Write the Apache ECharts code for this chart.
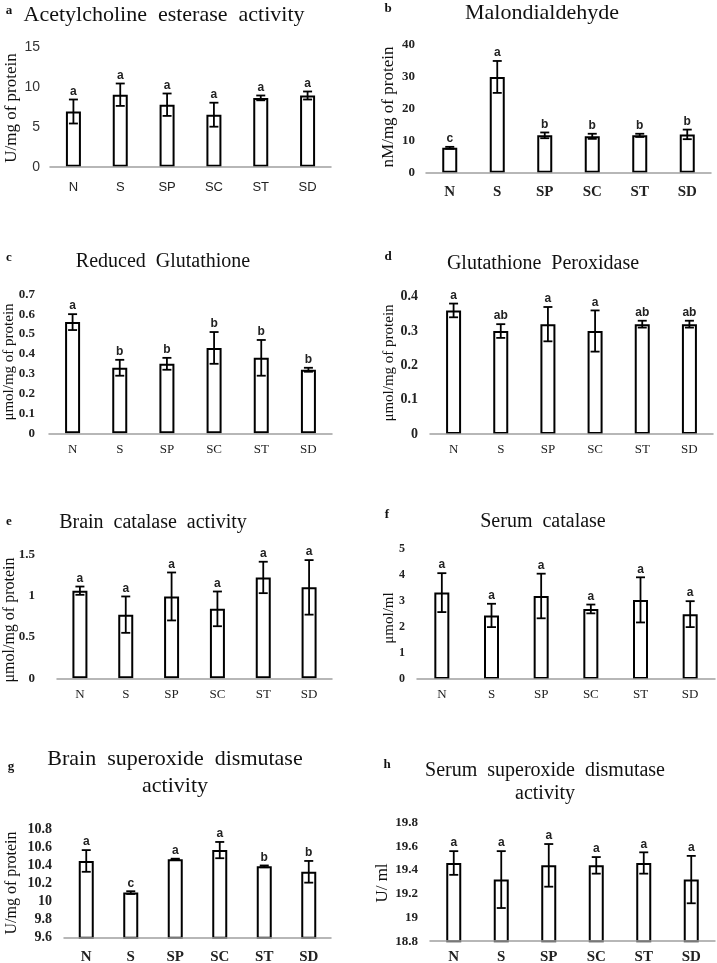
<!DOCTYPE html>
<html>
<head>
<meta charset="utf-8">
<script src="https://cdn.jsdelivr.net/npm/echarts@6/dist/echarts.min.js"></script>
<style>html,body{margin:0;padding:0;background:#fff}#c{width:717px;height:963px}</style>
</head>
<body>
<div id="c"></div>
<script>
const categories = ['N', 'S', 'SP', 'SC', 'ST', 'SD'];

const aMean = [6.9, 9.0, 7.75, 6.5, 8.6, 8.9];
const aErr  = [1.5, 1.4, 1.4, 1.5, 0.3, 0.5];
const aSig  = ['a', 'a', 'a', 'a', 'a', 'a'];

const bMean = [7.8, 30, 11.7, 11.4, 11.7, 12.0];
const bErr  = [0.3, 5, 0.9, 0.8, 0.5, 1.5];
const bSig  = ['c', 'a', 'b', 'b', 'b', 'b'];

const cMean = [0.56, 0.33, 0.35, 0.43, 0.38, 0.32];
const cErr  = [0.04, 0.04, 0.03, 0.08, 0.09, 0.01];
const cSig  = ['a', 'b', 'b', 'b', 'b', 'b'];

const dMean = [0.36, 0.30, 0.32, 0.30, 0.32, 0.32];
const dErr  = [0.02, 0.02, 0.05, 0.06, 0.01, 0.01];
const dSig  = ['a', 'ab', 'a', 'a', 'ab', 'ab'];

const eMean = [1.06, 0.77, 0.99, 0.84, 1.22, 1.10];
const eErr  = [0.05, 0.22, 0.29, 0.21, 0.19, 0.33];
const eSig  = ['a', 'a', 'a', 'a', 'a', 'a'];

const fMean = [3.33, 2.45, 3.2, 2.7, 3.05, 2.5];
const fErr  = [0.75, 0.45, 0.86, 0.17, 0.87, 0.5];
const fSig  = ['a', 'a', 'a', 'a', 'a', 'a'];

const gMean = [10.45, 10.10, 10.47, 10.57, 10.39, 10.33];
const gErr  = [0.12, 0.015, 0.005, 0.09, 0.01, 0.12];
const gSig  = ['a', 'c', 'a', 'a', 'b', 'b'];

const hMean = [19.46, 19.32, 19.44, 19.44, 19.46, 19.32];
const hErr  = [0.1, 0.24, 0.18, 0.07, 0.09, 0.2];
const hSig  = ['a', 'a', 'a', 'a', 'a', 'a'];

const SERIF = '"Liberation Serif", "Times New Roman", serif';
const SANS = '"Liberation Sans", Arial, sans-serif';

const panels = [
  {mean: aMean, err: aErr, sig: aSig, min: 0, max: 15, interval: 5,
   grid: {left: 50, top: 46.7, width: 281, height: 120},
   yMargin: 10, xMargin: 21, tickFont: {fontFamily: SANS, fontSize: 14, fontWeight: 'normal', color: '#333'},
   catFont: {fontFamily: SANS, fontSize: 13, fontWeight: 'normal', color: '#222'}},
  {mean: bMean, err: bErr, sig: bSig, min: 0, max: 40, interval: 10,
   grid: {left: 426, top: 45, width: 285, height: 127.7},
   yMargin: 11, xMargin: 19, tickFont: {fontFamily: SERIF, fontSize: 13, fontWeight: 'bold', color: '#222'},
   catFont: {fontFamily: SERIF, fontSize: 15, fontWeight: 'bold', color: '#222'}},
  {mean: cMean, err: cErr, sig: cSig, min: 0, max: 0.7, interval: 0.1,
   grid: {left: 49, top: 294.3, width: 283, height: 139},
   yMargin: 14, xMargin: 16, tickFont: {fontFamily: SERIF, fontSize: 13, fontWeight: 'bold', color: '#222'},
   catFont: {fontFamily: SERIF, fontSize: 13, fontWeight: 'normal', color: '#222'}},
  {mean: dMean, err: dErr, sig: dSig, min: 0, max: 0.4, interval: 0.1,
   grid: {left: 430, top: 296.7, width: 283, height: 137.3},
   yMargin: 12, xMargin: 16, tickFont: {fontFamily: SERIF, fontSize: 14, fontWeight: 'bold', color: '#222'},
   catFont: {fontFamily: SERIF, fontSize: 13, fontWeight: 'normal', color: '#222'}},
  {mean: eMean, err: eErr, sig: eSig, min: 0, max: 1.5, interval: 0.5,
   grid: {left: 57, top: 554.3, width: 275, height: 124},
   yMargin: 22, xMargin: 16, tickFont: {fontFamily: SERIF, fontSize: 13, fontWeight: 'bold', color: '#222'},
   catFont: {fontFamily: SERIF, fontSize: 13, fontWeight: 'normal', color: '#222'}},
  {mean: fMean, err: fErr, sig: fSig, min: 0, max: 5, interval: 1,
   grid: {left: 417, top: 549.3, width: 298, height: 129.7},
   yMargin: 12, xMargin: 16, tickFont: {fontFamily: SERIF, fontSize: 12, fontWeight: 'bold', color: '#222'},
   catFont: {fontFamily: SERIF, fontSize: 13, fontWeight: 'normal', color: '#222'}},
  {mean: gMean, err: gErr, sig: gSig, min: 9.6, max: 10.8, interval: 0.2,
   grid: {left: 64, top: 829.3, width: 267, height: 108.5},
   yMargin: 12, xMargin: 19, tickFont: {fontFamily: SERIF, fontSize: 14, fontWeight: 'bold', color: '#222'},
   catFont: {fontFamily: SERIF, fontSize: 15, fontWeight: 'bold', color: '#222'}},
  {mean: hMean, err: hErr, sig: hSig, min: 18.8, max: 19.8, interval: 0.2,
   grid: {left: 430, top: 822.7, width: 285, height: 118.5},
   yMargin: 12, xMargin: 16, tickFont: {fontFamily: SERIF, fontSize: 13, fontWeight: 'bold', color: '#222'},
   catFont: {fontFamily: SERIF, fontSize: 15, fontWeight: 'bold', color: '#222'}}
];

function errRender(sig) {
  return function (params, api) {
    const x = api.value(0), m = api.value(1), e = api.value(2);
    const top = api.coord([x, m + e]);
    const bot = api.coord([x, m - e]);
    const hw = 4.5;
    const st = {stroke: '#000', lineWidth: 1.8};
    return {
      type: 'group',
      children: [
        {type: 'line', shape: {x1: top[0], y1: top[1], x2: bot[0], y2: bot[1]}, style: st},
        {type: 'line', shape: {x1: top[0] - hw, y1: top[1], x2: top[0] + hw, y2: top[1]}, style: st},
        {type: 'line', shape: {x1: bot[0] - hw, y1: bot[1], x2: bot[0] + hw, y2: bot[1]}, style: st},
        {type: 'text', x: top[0], y: top[1] - 2,
         style: {text: sig[params.dataIndex], textAlign: 'center', textVerticalAlign: 'bottom',
                 font: 'bold 12px ' + SANS, fill: '#222'}}
      ]
    };
  };
}

const grids = [], xAxes = [], yAxes = [], series = [];
panels.forEach((p, i) => {
  grids.push(Object.assign({containLabel: false, outerBoundsMode: 'none'}, p.grid));
  xAxes.push({
    type: 'category', gridIndex: i, data: categories, z: 5,
    axisLine: {lineStyle: {color: '#a0a0a0', width: 1.5}},
    axisTick: {show: false},
    axisLabel: Object.assign({margin: p.xMargin, verticalAlign: 'middle', interval: 0}, p.catFont)
  });
  yAxes.push({
    type: 'value', gridIndex: i, min: p.min, max: p.max, interval: p.interval,
    axisLine: {show: false}, axisTick: {show: false}, splitLine: {show: false},
    axisLabel: Object.assign({margin: p.yMargin}, p.tickFont)
  });
  series.push({
    type: 'bar', xAxisIndex: i, yAxisIndex: i, data: p.mean, barWidth: 15,
    itemStyle: {color: '#fff', borderColor: '#000', borderWidth: 2},
    silent: true, animation: false
  });
  series.push({
    type: 'custom', xAxisIndex: i, yAxisIndex: i,
    data: p.mean.map((v, k) => [k, v, p.err[k]]),
    renderItem: errRender(p.sig), z: 4, silent: true, animation: false
  });
});

function txt(text, x, y, font) {
  return {
    type: 'text', x: x, y: y,
    style: {text: text, font: font, fill: '#111', textAlign: 'center', textVerticalAlign: 'middle'}
  };
}
function ytitle(text, x, y, size) {
  return {type: 'text', x: x, y: y, rotation: Math.PI / 2,
          style: {text: text, font: size + 'px ' + SERIF, fill: '#111', textAlign: 'center', textVerticalAlign: 'middle'}};
}

const graphics = [
  txt('a', 9, 11, 'bold 13px ' + SERIF),
  txt('Acetylcholine  esterase  activity', 164, 15, '22px ' + SERIF),
  txt('b', 388, 9, 'bold 13px ' + SERIF),
  txt('Malondialdehyde', 542, 13, '22px ' + SERIF),
  txt('c', 9, 258, 'bold 13px ' + SERIF),
  txt('Reduced  Glutathione', 163, 262, '20px ' + SERIF),
  txt('d', 388, 257, 'bold 13px ' + SERIF),
  txt('Glutathione  Peroxidase', 543, 264, '20px ' + SERIF),
  txt('e', 9, 522, 'bold 13px ' + SERIF),
  txt('Brain  catalase  activity', 153, 523, '20px ' + SERIF),
  txt('f', 387, 515, 'bold 13px ' + SERIF),
  txt('Serum  catalase', 543, 522, '20px ' + SERIF),
  txt('g', 11, 767, 'bold 13px ' + SERIF),
  txt('Brain  superoxide  dismutase', 175, 759, '22px ' + SERIF),
  txt('activity', 175, 786, '22px ' + SERIF),
  txt('h', 387, 765, 'bold 13px ' + SERIF),
  txt('Serum  superoxide  dismutase', 545, 771, '20px ' + SERIF),
  txt('activity', 545, 794, '20px ' + SERIF),
  ytitle('U/mg of protein', 12, 108, 17),
  ytitle('nM/mg of protein', 389, 107, 17),
  ytitle('μmol/mg of protein', 9, 362, 15),
  ytitle('μmol/mg of protein', 389, 363, 15),
  ytitle('μmol/mg of protein', 10, 620, 16),
  ytitle('μmol/ml', 389, 618, 15),
  ytitle('U/mg of protein', 12, 883, 16),
  ytitle('U/ ml', 383, 883, 17)
];

const chart = echarts.init(document.getElementById('c'), null, {renderer: 'canvas'});
chart.setOption({
  animation: false,
  backgroundColor: '#fff',
  grid: grids, xAxis: xAxes, yAxis: yAxes, series: series,
  graphic: graphics
});
</script>
</body>
</html>
